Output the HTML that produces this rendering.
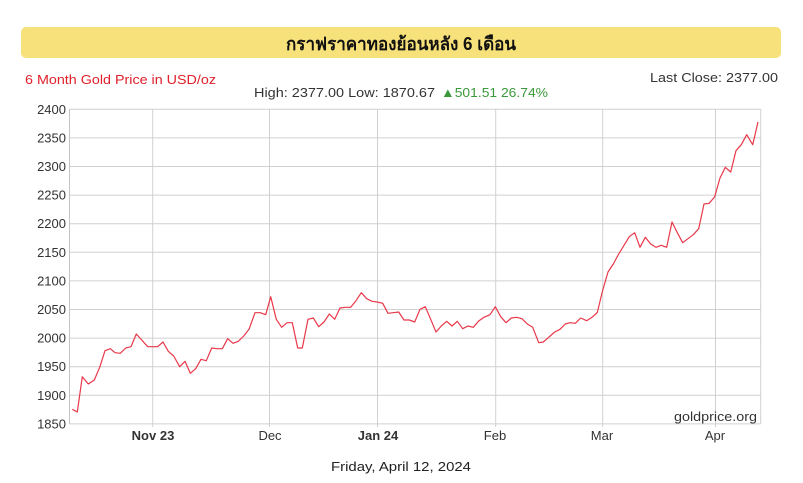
<!DOCTYPE html>
<html><head><meta charset="utf-8"><style>
html,body{margin:0;padding:0;background:#fff;width:803px;height:483px;overflow:hidden}
svg{display:block}
text{font-family:"Liberation Sans","DejaVu Sans",sans-serif}
</style></head><body>
<svg width="803" height="483" viewBox="0 0 803 483" xmlns="http://www.w3.org/2000/svg">
<rect x="21" y="27" width="760" height="31" rx="5" ry="5" fill="#f7e17a"/>
<text x="401" y="50" text-anchor="middle" font-size="18" font-weight="bold" fill="#111" textLength="230" lengthAdjust="spacingAndGlyphs">กราฟราคาทองย้อนหลัง 6 เดือน</text>
<text x="25" y="84" font-size="13" fill="#e0202a" textLength="191" lengthAdjust="spacingAndGlyphs">6 Month Gold Price in USD/oz</text>
<text x="650" y="82" font-size="13" fill="#333" textLength="128" lengthAdjust="spacingAndGlyphs">Last Close: 2377.00</text>
<text x="254" y="97" font-size="13" fill="#333" textLength="181" lengthAdjust="spacingAndGlyphs">High: 2377.00 Low: 1870.67</text>
<text x="441" y="97" font-size="13" fill="#3a993a" textLength="107" lengthAdjust="spacingAndGlyphs">▲501.51 26.74%</text>
<g stroke="#d0d0d0" stroke-width="1" fill="none">
<line x1="69.5" y1="109.3" x2="760.7" y2="109.3"/>
<line x1="69.5" y1="137.9" x2="760.7" y2="137.9"/>
<line x1="69.5" y1="166.5" x2="760.7" y2="166.5"/>
<line x1="69.5" y1="195.1" x2="760.7" y2="195.1"/>
<line x1="69.5" y1="223.7" x2="760.7" y2="223.7"/>
<line x1="69.5" y1="252.3" x2="760.7" y2="252.3"/>
<line x1="69.5" y1="280.9" x2="760.7" y2="280.9"/>
<line x1="69.5" y1="309.5" x2="760.7" y2="309.5"/>
<line x1="69.5" y1="338.1" x2="760.7" y2="338.1"/>
<line x1="69.5" y1="366.7" x2="760.7" y2="366.7"/>
<line x1="69.5" y1="395.3" x2="760.7" y2="395.3"/>
<line x1="69.5" y1="423.9" x2="760.7" y2="423.9"/>
<line x1="152.7" y1="109.3" x2="152.7" y2="427"/>
<line x1="269.5" y1="109.3" x2="269.5" y2="427"/>
<line x1="377.5" y1="109.3" x2="377.5" y2="427"/>
<line x1="495.7" y1="109.3" x2="495.7" y2="427"/>
<line x1="602.7" y1="109.3" x2="602.7" y2="427"/>
<line x1="715.5" y1="109.3" x2="715.5" y2="427"/>
<line x1="760.7" y1="109.3" x2="760.7" y2="423.9"/>
<line x1="69.5" y1="109.3" x2="69.5" y2="423.9" stroke="#c4c4c4"/>
</g>
<g font-size="13" fill="#333" text-anchor="end">
<text x="66" y="114">2400</text>
<text x="66" y="142.5">2350</text>
<text x="66" y="171">2300</text>
<text x="66" y="199.5">2250</text>
<text x="66" y="228">2200</text>
<text x="66" y="257">2150</text>
<text x="66" y="285.5">2100</text>
<text x="66" y="314">2050</text>
<text x="66" y="342.5">2000</text>
<text x="66" y="371">1950</text>
<text x="66" y="400">1900</text>
<text x="66" y="428.5">1850</text>
</g>
<g font-size="13" fill="#333" text-anchor="middle">
<text x="153" y="440" font-weight="bold">Nov 23</text>
<text x="270" y="440">Dec</text>
<text x="378" y="440" font-weight="bold">Jan 24</text>
<text x="495" y="440">Feb</text>
<text x="602" y="440">Mar</text>
<text x="715" y="440">Apr</text>
</g>
<text x="757" y="421" font-size="13" fill="#333" text-anchor="end" textLength="83" lengthAdjust="spacingAndGlyphs">goldprice.org</text>
<text x="331" y="471" font-size="13" fill="#222" textLength="140" lengthAdjust="spacingAndGlyphs">Friday, April 12, 2024</text>
<polyline fill="none" stroke="#e8384a" stroke-width="1.2" stroke-linejoin="round" points="
72.3,409.3 77.3,412 82.3,376.7 88.3,384 94.3,380 99.7,367.3 105,350.7 110.3,348.7 115,352.7 120.3,353.3
125.7,348 131,346.7 136.3,334 141.7,340 147.7,346.7 152.3,346.7 157.7,346.7 163,342 168.3,351.3 173.7,356
179.7,366.7 185,361.3 190.3,373.3 195.7,368.7 201,359.3 206.3,360.7 211.7,348 217,348.7 222.3,348.7 227.7,338.7
233,343.3 238.3,341.3 243.7,336 249,329.3 255,312.7 260.3,312.7 265.7,314.7 270.7,296.7 276.3,319.3 281.7,327.3
287,322.7 292.3,322.7 297.7,348 302.3,348 308,319.3 313.3,318 318.7,326.7 324,322 329.3,314 334.7,319.3
340,308 345.3,307.3 350.7,307.3 356,300.7 361.3,292.7 366.7,298.7 372,301.3 377.3,302 382.7,303.3 388,313.3
393.3,312.7 398.7,312 404,320 409.3,320 414.7,322 420,309.3 425.3,306.7 430.7,319.3 436,332 441.3,326
446.7,321.3 452,326 457.3,321.3 462.7,328.7 468,326 473.3,327.3 478.7,321 484,317.3 490,314.7 495.3,306.7
500.7,316.7 506,322.7 511.3,318 516.7,317.3 522,318.7 527.3,324 532.7,327.3 538.7,342.7 543.3,342 548.7,337.3
554.7,332 560,329.3 565.3,324 570,322.7 575.3,323.3 580.7,318 586.7,320.7 592,317.3 597.3,312.5 602.5,291
608,272 613.3,264 618.7,254 624,245.3 629.3,236.7 634.7,232.7 640,247.3 645.3,237.3 650.7,244 656,247.3
661.3,245.3 666.7,247.3 672,222 677.3,232.7 682.7,242.7 688,238.7 693.3,234.7 698.7,228.7 704,204 709.3,203.3
714.7,196.7 720,178 725.3,167.3 730.7,172 736,150.7 741.3,144.7 746.7,134.7 752.7,144.7 758,122"/>
</svg>
</body></html>
